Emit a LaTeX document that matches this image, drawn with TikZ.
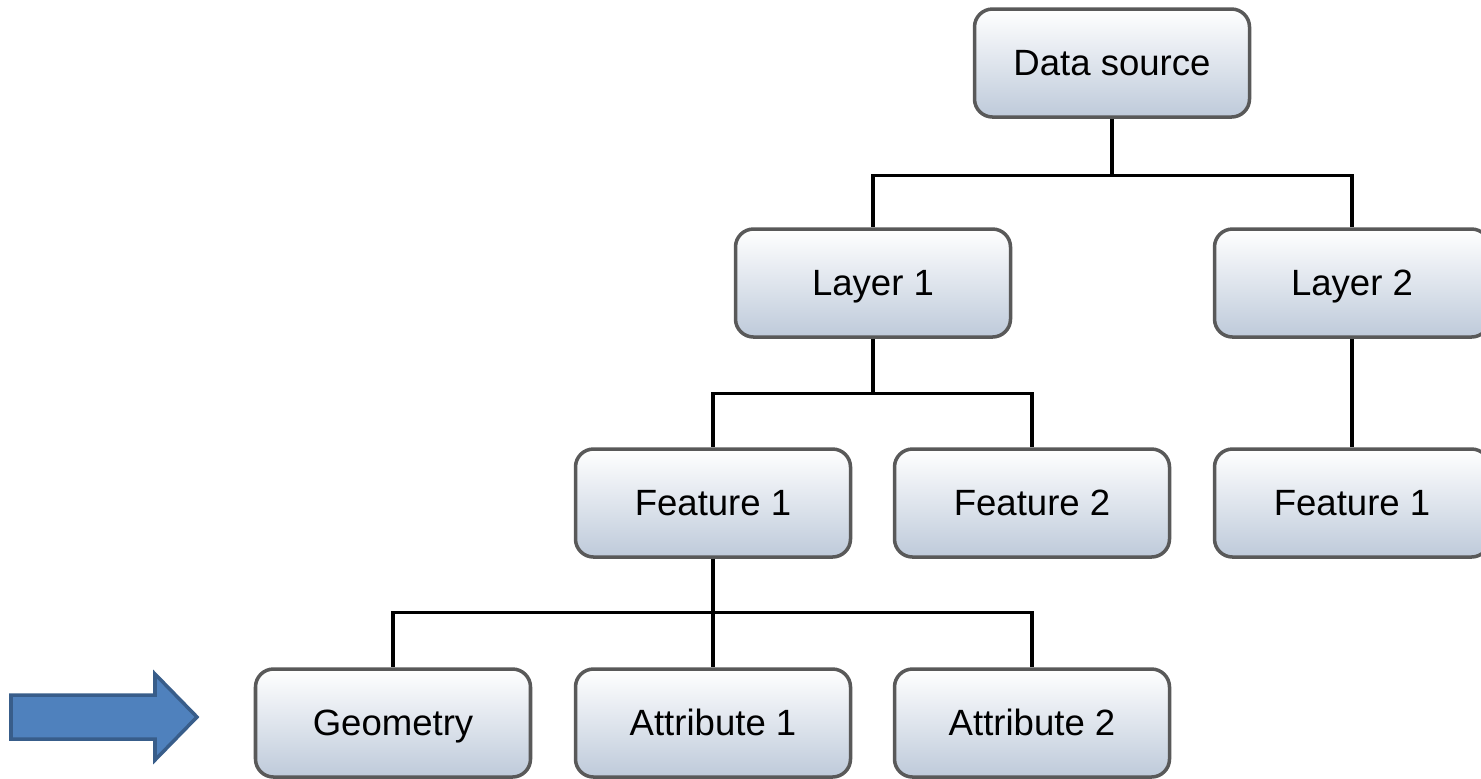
\documentclass[tikz,border=0pt]{standalone}
\usepackage{fontspec}
\setmainfont{Liberation Sans}
\usepackage{xcolor}
\definecolor{boxbot}{RGB}{190,202,218}
\definecolor{arrowfill}{RGB}{79,129,189}
\definecolor{arrowline}{RGB}{56,93,138}
\tikzset{
    box/.style={draw=black!65, line width=1pt, rounded corners=0.18cm,
        top color=white, bottom color=boxbot,
        minimum width=2.75cm, minimum height=1.08cm,
        text height=1.75ex, text depth=0.45ex,
        font=\fontsize{10.4}{12}\selectfont},
    link/.style={line width=0.9pt}
}

\begin{document}
\begin{tikzpicture}
        \useasboundingbox (0,0) rectangle (14.81,-7.78);

        \node[box] (ds)  at (11.12,-0.63) {Data source};
        \node[box] (l1)  at (8.73,-2.83) {Layer 1};
        \node[box] (l2)  at (13.52,-2.83) {Layer 2};
        \node[box] (f1)  at (7.13,-5.03) {Feature 1};
        \node[box] (f2)  at (10.32,-5.03) {Feature 2};
        \node[box] (f3)  at (13.52,-5.03) {Feature 1};
        \node[box] (geo) at (3.93,-7.23) {Geometry};
        \node[box] (a1)  at (7.13,-7.23) {Attribute 1};
        \node[box] (a2)  at (10.32,-7.23) {Attribute 2};

        \draw[link] (ds.south) -- ++(0,-0.57) -| (l1.north);
        \draw[link] (ds.south) -- ++(0,-0.57) -| (l2.north);
        \draw[link] (l1.south) -- ++(0,-0.55) -| (f1.north);
        \draw[link] (l1.south) -- ++(0,-0.55) -| (f2.north);
        \draw[link] (l2.south) -- (f3.north);
        \draw[link] (f1.south) -- ++(0,-0.54) -| (geo.north);
        \draw[link] (f1.south) -- (a1.north);
        \draw[link] (f1.south) -- ++(0,-0.54) -| (a2.north);

        % block arrow pointing at the bottom row
        \draw[fill=arrowfill, draw=arrowline, line width=1pt]
            (0.11,-6.95) -- (1.55,-6.95) -- (1.55,-6.74) -- (1.97,-7.17)
            -- (1.55,-7.60) -- (1.55,-7.39) -- (0.11,-7.39) -- cycle;

    \end{tikzpicture}
\end{document}
